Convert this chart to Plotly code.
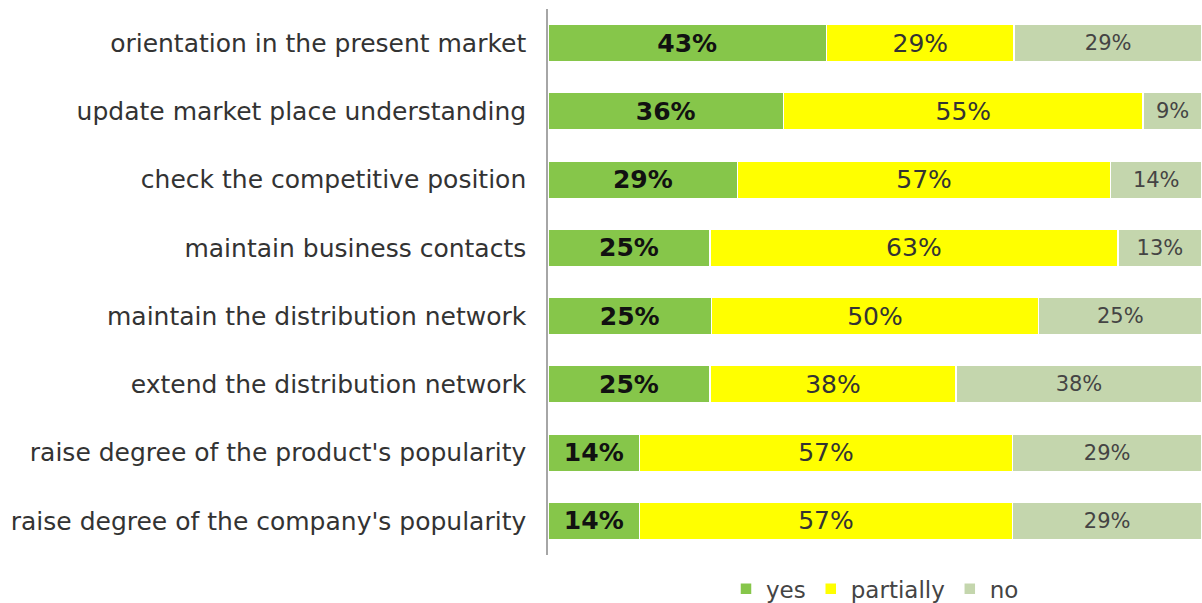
import plotly.graph_objects as go

categories = [
    "orientation in the present market",
    "update market place understanding",
    "check the competitive position",
    "maintain business contacts",
    "maintain the distribution network",
    "extend the distribution network",
    "raise degree of the product's popularity",
    "raise degree of the company's popularity",
]
yes = [43, 36, 29, 25, 25, 25, 14, 14]
partially = [29, 55, 57, 63, 50, 38, 57, 57]
no = [29, 9, 14, 13, 25, 38, 29, 29]

FONT = "DejaVu Sans"
series = [
    ("yes", yes, "#86c64a", dict(family=FONT, size=25, color="#111111", weight="bold")),
    ("partially", partially, "#ffff00", dict(family=FONT, size=25, color="#333333")),
    ("no", no, "#c4d6ad", dict(family=FONT, size=21, color="#444444")),
]

fig = go.Figure()
for name, vals, color, tfont in series:
    fig.add_trace(go.Bar(
        name=name,
        y=categories,
        x=vals,
        orientation="h",
        marker=dict(color=color, line=dict(color="white", width=1.5)),
        text=[f"{v}%" for v in vals],
        textposition="inside",
        insidetextanchor="middle",
        textangle=0,
        textfont=tfont,
        constraintext="none",
        cliponaxis=False,
        hoverinfo="skip",
    ))

fig.update_layout(
    barmode="stack",
    barnorm="percent",
    bargap=0.45,
    width=1202,
    height=603,
    margin=dict(l=548, r=0, t=9, b=48, autoexpand=False),
    paper_bgcolor="white",
    plot_bgcolor="white",
    font=dict(family=FONT, size=25, color="#333333"),
    legend=dict(
        orientation="h",
        x=0.5, xanchor="center",
        y=-0.062, yanchor="middle",
        font=dict(family=FONT, size=23, color="#444444"),
        traceorder="normal",
        itemwidth=30,
    ),
)
fig.update_xaxes(range=[0, 100], visible=False, showgrid=False, automargin=False)
fig.update_yaxes(
    autorange="reversed", automargin=False,
    showline=True, linecolor="#a6a6a6", linewidth=1.5,
    showgrid=False, ticks="", ticklabelstandoff=15,
    tickfont=dict(family=FONT, size=25, color="#333333"),
)

fig.write_html(
    "out.html",
    config={"displayModeBar": False},
    post_script="document.body.style.margin='0';",
)
